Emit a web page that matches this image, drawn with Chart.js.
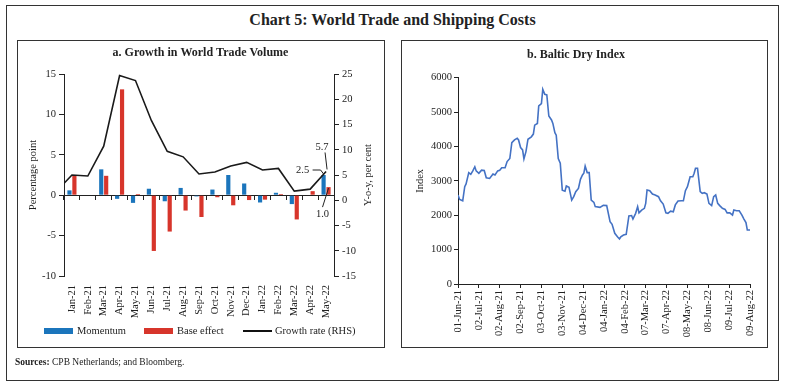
<!DOCTYPE html>
<html>
<head>
<meta charset="utf-8">
<script src="https://cdn.jsdelivr.net/npm/chart.js@4/dist/chart.umd.min.js"></script>
<style>
  body { margin: 0; background: #fff; font-family: "Liberation Serif", serif; color: #222; }
  .abs { position: absolute; }
  #outer { left: 6px; top: 5px; width: 773px; height: 376px; border: 1.5px solid #333; box-sizing: border-box; }
  #mainTitle { left: 0; top: 11px; width: 785px; text-align: center; font-weight: bold; font-size: 16px; line-height: 18px; }
  .panel { top: 40px; height: 308px; border: 1px solid #333; box-sizing: border-box; }
  .leg { top: 325px; font-size: 10.5px; line-height: 12px; }
  .sw { top: 328px; width: 29px; height: 6px; }
  #sources { left: 15px; top: 356px; font-size: 9.5px; line-height: 12px; }
</style>
</head>
<body>
<div id="outer" class="abs"></div>
<div id="mainTitle" class="abs">Chart 5: World Trade and Shipping Costs</div>
<div class="abs panel" style="left:17px;width:368px;"></div>
<div class="abs panel" style="left:401px;width:367px;"></div>
<canvas id="chartA" class="abs" width="365" height="287" style="left:18px;top:41px;"></canvas>
<canvas id="chartB" class="abs" width="365" height="306" style="left:402px;top:41px;"></canvas>

<!-- legend for panel a -->
<div class="abs sw" style="left:44px;background:#1b75bc;"></div>
<div class="abs leg" style="left:77px;">Momentum</div>
<div class="abs sw" style="left:144px;background:#d7352b;"></div>
<div class="abs leg" style="left:177px;">Base effect</div>
<div class="abs" style="left:243px;top:330px;width:29px;height:1.5px;background:#111;"></div>
<div class="abs leg" style="left:275px;">Growth rate (RHS)</div>

<div id="sources" class="abs"><b>Sources:</b> CPB Netherlands; and Bloomberg.</div>

<script>
// panel a: world trade volume (Dec-20 only feeds the line's left edge)
const months = ["Dec-20", "Jan-21", "Feb-21", "Mar-21", "Apr-21", "May-21", "Jun-21", "Jul-21", "Aug-21",
  "Sep-21", "Oct-21", "Nov-21", "Dec-21", "Jan-22", "Feb-22", "Mar-22", "Apr-22", "May-22"];
const momentum = [null, 0.6, 0, 3.2, -0.45, -0.95, 0.8, -0.75, 0.9, -0.15, 0.7, 2.5, 1.45, -0.9, 0.3, -1.1, 0, 2.5];
const baseEffect = [null, 2.4, 0, 2.4, 13.1, 0.15, -6.9, -4.5, -1.9, -2.7, -0.25, -1.25, -0.6, -0.55, 0.15, -3.0, 0.5, 1.0];
const growth = [1.7, 5.0, 4.8, 10.7, 24.7, 23.7, 15.8, 9.7, 8.6, 5.2, 5.6, 6.8, 7.5, 6.0, 6.3, 1.8, 2.2, 5.7];

// panel b: baltic dry index, x = days since 01-Jun-21
const bdiDay = [0, 2.5, 7, 10, 12, 16, 19, 22, 25, 27, 31, 35, 39, 42, 47, 52, 55, 59, 62, 65, 70, 73, 77, 80, 84, 88,
  90, 93, 96, 98, 101, 104, 109, 112, 114, 118, 120, 124, 126, 129, 132, 135, 139, 141, 144, 146, 149, 152, 155,
  159, 161, 165, 169, 172, 175, 179, 182, 185, 187, 189, 192, 195, 198, 202, 204, 211, 216, 221, 226, 229, 233,
  237, 240, 242, 246, 250, 254, 258, 260, 264, 267, 269, 273, 277, 279, 281, 285, 289, 293, 298, 301, 305, 309,
  312, 316, 320, 323, 327, 332, 335, 338, 341, 345, 349, 351, 353, 356, 360, 363, 366, 370, 373, 377, 380, 383,
  386, 389, 393, 397, 400, 404, 408, 410, 414, 418, 422, 425, 428, 430, 434];
const bdiValue = [2590, 2460, 2420, 2830, 2910, 3240, 3190, 3290, 3410, 3290, 3220, 3310, 3300, 3090, 3070, 3200,
  3170, 3290, 3310, 3380, 3380, 3560, 3650, 4110, 4190, 4240, 4190, 3970, 3900, 3640, 3850, 4210, 4280, 4360,
  4620, 4670, 5180, 5250, 5660, 5515, 5500, 4885, 4770, 4670, 4400, 4330, 3650, 3510, 2730, 2700, 2850, 2810,
  2440, 2540, 2685, 2780, 3045, 3170, 3220, 3430, 3240, 3240, 2440, 2375, 2250, 2230, 2290, 2280, 1810, 1735,
  1475, 1375, 1310, 1375, 1425, 1445, 1980, 1990, 1890, 2055, 2250, 2070, 2150, 2200, 2345, 2735, 2715, 2615,
  2590, 2540, 2420, 2325, 2070, 2055, 2120, 2100, 2300, 2415, 2420, 2420, 2715, 2830, 3120, 3120, 3220, 3365,
  3365, 2685, 2635, 2655, 2615, 2345, 2280, 2540, 2590, 2345, 2280, 2200, 2170, 2070, 2070, 2005, 2150, 2130,
  2130, 2005, 1890, 1785, 1570, 1570];
const bdiTicks = ["01-Jun-21", "02-Jul-21", "02-Aug-21", "02-Sep-21", "03-Oct-21", "03-Nov-21", "04-Dec-21",
  "04-Jan-22", "04-Feb-22", "07-Mar-22", "07-Apr-22", "08-May-22", "08-Jun-22", "09-Jul-22", "09-Aug-22"];

const ink = "#222";
const serif = "'Liberation Serif', serif";
Chart.defaults.font.family = serif;
Chart.defaults.color = ink;

// value labels with leader lines on the last month
const lastLabels = {
  id: "lastLabels",
  afterDatasetsDraw(chart) {
    const ctx = chart.ctx;
    const last = months.length - 1;
    const blue = chart.getDatasetMeta(0).data[last];
    const red = chart.getDatasetMeta(1).data[last];
    const pt = chart.getDatasetMeta(2).data[last];
    ctx.save();
    ctx.strokeStyle = ink;
    ctx.fillStyle = ink;
    ctx.lineWidth = 1;
    ctx.font = "10.5px " + serif;
    ctx.textAlign = "center";
    ctx.textBaseline = "middle";
    // growth rate
    ctx.beginPath();
    ctx.moveTo(pt.x + 1, pt.y - 2);
    ctx.lineTo(pt.x - 1, pt.y - 19);
    ctx.stroke();
    ctx.fillText(growth[last].toFixed(1), pt.x - 4, pt.y - 24);
    // momentum
    ctx.beginPath();
    ctx.moveTo(blue.x - 11, blue.y - 5);
    ctx.lineTo(blue.x - 3, blue.y - 5);
    ctx.lineTo(blue.x, blue.y - 1);
    ctx.stroke();
    ctx.fillText(momentum[last].toFixed(1), blue.x - 21, blue.y - 5);
    // base effect
    ctx.beginPath();
    ctx.moveTo(red.x, red.y + 1);
    ctx.lineTo(red.x - 6, red.y + 20);
    ctx.stroke();
    ctx.fillText(baseEffect[last].toFixed(1), red.x - 6, red.y + 27);
    ctx.restore();
  }
};

// right axis title reads bottom to top like the left one
const rhsTitle = {
  id: "rhsTitle",
  afterDraw(chart) {
    const ctx = chart.ctx;
    const s = chart.scales.y1;
    const area = chart.chartArea;
    ctx.save();
    ctx.translate(s.left + 34, (area.top + area.bottom) / 2);
    ctx.rotate(-Math.PI / 2);
    ctx.font = "10.5px " + serif;
    ctx.fillStyle = ink;
    ctx.textAlign = "center";
    ctx.textBaseline = "middle";
    ctx.fillText("Y-o-y, per cent", 0, 0);
    ctx.restore();
  }
};

new Chart("chartA", {
  type: "bar",
  data: {
    labels: months,
    datasets: [
      { label: "Momentum", data: momentum, backgroundColor: "#1b75bc", yAxisID: "y",
        categoryPercentage: 0.62, barPercentage: 0.85 },
      { label: "Base effect", data: baseEffect, backgroundColor: "#d7352b", yAxisID: "y",
        categoryPercentage: 0.62, barPercentage: 0.85 },
      { type: "line", label: "Growth rate (RHS)", data: growth, yAxisID: "y1", borderColor: "#1a1a1a",
        borderWidth: 1.6, pointRadius: 0, tension: 0, order: -1 },
    ],
  },
  options: {
    responsive: false,
    animation: false,
    layout: { padding: 0 },
    plugins: {
      legend: { display: false },
      tooltip: { enabled: false },
      title: { display: true, text: "a. Growth in World Trade Volume", font: { size: 12, weight: "bold" },
        color: ink, padding: { top: 5, bottom: 13.6 } },
    },
    scales: {
      x: {
        min: "Jan-21",
        offset: true,
        grid: { display: false, drawTicks: false },
        border: { display: false },
        ticks: { minRotation: 90, maxRotation: 90, autoSkip: false, padding: 9, font: { size: 10.5 } },
        afterFit: (s) => { s.height = 52; },
      },
      x2: {
        type: "category",
        labels: months,
        min: "Jan-21",
        position: { y: 0 },
        offset: true,
        grid: { display: true, drawOnChartArea: false, offset: true, tickLength: 4, color: ink },
        border: { display: true, color: ink, width: 1 },
        ticks: { display: false },
      },
      y: {
        position: "left",
        min: -10,
        max: 15,
        ticks: { stepSize: 5, padding: 3, font: { size: 10.5 } },
        grid: { drawOnChartArea: false, tickLength: 5, color: ink },
        border: { color: ink },
        title: { display: true, text: "Percentage point", font: { size: 10.5 }, padding: { top: 8.7, bottom: 0 } },
        afterFit: (s) => { s.width = 46; },
      },
      y1: {
        position: "right",
        min: -15,
        max: 25,
        ticks: { stepSize: 5, padding: 3, font: { size: 10.5 } },
        grid: { drawOnChartArea: false, tickLength: 5, color: ink },
        border: { color: ink },
        afterFit: (s) => { s.width = 49; },
      },
    },
  },
  plugins: [lastLabels, rhsTitle],
});

new Chart("chartB", {
  type: "line",
  data: {
    datasets: [
      { label: "Baltic Dry Index", data: bdiDay.map((d, i) => ({ x: d, y: bdiValue[i] })),
        borderColor: "#4472c4", borderWidth: 1.6, pointRadius: 0, tension: 0 },
    ],
  },
  options: {
    responsive: false,
    animation: false,
    layout: { padding: { left: 0, right: 17, top: 0, bottom: 0 } },
    plugins: {
      legend: { display: false },
      tooltip: { enabled: false },
      title: { display: true, text: "b. Baltic Dry Index", font: { size: 12, weight: "bold" },
        color: ink, padding: { top: 6.8, bottom: 15.5 } },
    },
    scales: {
      x: {
        type: "linear",
        min: 0,
        max: 434,
        grid: { drawOnChartArea: false, tickLength: 4, color: ink },
        border: { color: ink },
        ticks: { stepSize: 31, minRotation: 90, maxRotation: 90, autoSkip: false, padding: 2,
          font: { size: 10.5 }, callback: (v) => bdiTicks[Math.round(v / 31)] },
        afterFit: (s) => { s.height = 63; },
      },
      y: {
        min: 0,
        max: 6000,
        ticks: { stepSize: 1000, padding: 2, font: { size: 10.5 }, callback: (v) => String(v) },
        grid: { drawOnChartArea: false, tickLength: 4, color: ink },
        border: { color: ink },
        title: { display: true, text: "Index", font: { size: 10.5 }, padding: { top: 11.7, bottom: 0 } },
        afterFit: (s) => { s.width = 56; },
      },
    },
  },
});
</script>
</body>
</html>
